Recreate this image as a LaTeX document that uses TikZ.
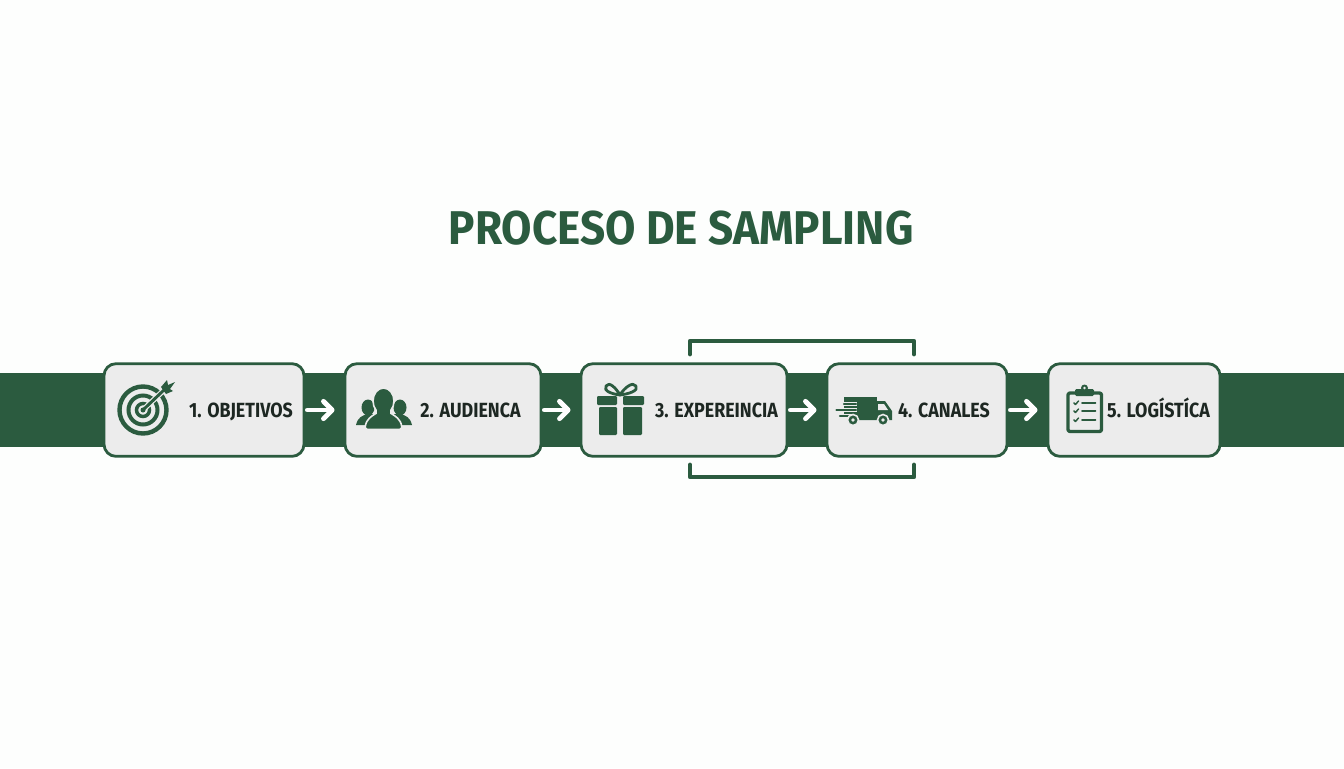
\documentclass[tikz,border=0pt]{standalone}
\usepackage{fontspec}
\setmainfont{Fira Sans}
\newfontfamily\titlefont[FakeStretch=0.93]{Fira Sans}
\newfontfamily\labelfont[FakeStretch=0.87]{Fira Sans}
\usetikzlibrary{arrows.meta}
\definecolor{brandgreen}{HTML}{2B5B3F}
\definecolor{boxfill}{HTML}{ECECEC}
\definecolor{inktext}{HTML}{1D2722}
\definecolor{paper}{HTML}{FDFEFD}
\tikzset{
  stagebox/.style={draw=brandgreen,line width=2.1pt,fill=boxfill,rounded corners=9pt,minimum height=69.5pt,inner sep=0pt,anchor=center},
  stagelabel/.style={font=\labelfont\fontsize{15.4pt}{18pt}\selectfont\bfseries,text=inktext,inner sep=0pt,anchor=base},
  flowarrow/.style={draw=white,line width=3.6pt,line cap=round,-{Straight Barb[length=6.5pt,width=13pt,round]},shorten <=1.5pt,shorten >=6.8pt},
  bracketline/.style={draw=brandgreen,line width=3.6pt,line cap=round,line join=round},
  iconfill/.style={fill=brandgreen,draw=none},
  iconline/.style={draw=brandgreen,line cap=round,line join=round}
}
\begin{document}
\begin{tikzpicture}[x=.75pt,y=-.75pt]
\useasboundingbox (0,0) rectangle (1344,768);
\fill[paper] (0,0) rectangle (1344,768);
\node[font=\titlefont\fontsize{35.5pt}{40pt}\selectfont\bfseries,text=brandgreen,inner sep=0pt,anchor=base] (title) at (681,244) {PROCESO DE SAMPLING};
% band
\fill[brandgreen] (0,373) rectangle (1344,447);
% brackets
\coordinate (tl) at (690,354); \coordinate (tlc) at (690,341);
\coordinate (tr) at (914,354); \coordinate (trc) at (914,341);
\coordinate (bl) at (690,465); \coordinate (blc) at (690,477);
\coordinate (br) at (914,465); \coordinate (brc) at (914,477);
\draw[bracketline] (tl) -- (tlc) -- (trc) -- (tr);
\draw[bracketline] (bl) -- (blc) -- (brc) -- (br);
% boxes
\node[stagebox,minimum width=150pt] (s1) at (204,410) {};
\node[stagebox,minimum width=147pt] (s2) at (443,410) {};
\node[stagebox,minimum width=154.5pt] (s3) at (684,410) {};
\node[stagebox,minimum width=135pt] (s4) at (917,410) {};
\node[stagebox,minimum width=129pt] (s5) at (1134,410) {};
% labels
\node[stagelabel] (l1) at (241,417.5) {1. OBJETIVOS};
\node[stagelabel] (l2) at (470.5,417.5) {2. AUDIENCA};
\node[stagelabel] (l3) at (716.5,417.5) {3. EXPEREINCIA};
\node[stagelabel] (l4) at (944,417.5) {4. CANALES};
\node[stagelabel] (l5) at (1158.5,417.5) {5. LOGÍSTÍCA};
% arrows
\draw[flowarrow] (s1.east) -- (s2.west);
\draw[flowarrow] (s2.east) -- (s3.west);
\draw[flowarrow] (s3.east) -- (s4.west);
\draw[flowarrow] (s4.east) -- (s5.west);
% target icon
\draw[brandgreen,line width=3.3pt] (143,410) circle (23.5);
\draw[brandgreen,line width=3pt] (143,410) circle (14.5);
\draw[brandgreen,line width=2.6pt] (143,410) circle (6.5);
\draw[boxfill,line width=4pt] (144,409) -- (164,390);
\draw[brandgreen,line width=2.2pt] (144,409) -- (165,389);
\fill[brandgreen] (161,387) -- (167,380) -- (168,385) -- (175,382) -- (170,389) -- (173,391) -- (166,394) -- cycle;
\fill[brandgreen] (143,410) circle (2.5);
% audience icon
\fill[brandgreen] (368,407.5) ellipse (6.5 and 8);
\fill[brandgreen] (400,407.5) ellipse (6.5 and 8);
\fill[brandgreen] (356,425) .. controls (358,417) and (362,416) .. (367,414) -- (374,414) -- (380,425) -- cycle;
\fill[brandgreen] (412,425) .. controls (410,417) and (406,416) .. (401,414) -- (394,414) -- (388,425) -- cycle;
\draw[boxfill,line width=1.2pt,fill=brandgreen,rounded corners=2pt] (365,429.5) .. controls (366,419) and (372,416) .. (378,412) -- (389,412) .. controls (395,416) and (401,419) .. (402,429.5) -- cycle;
\draw[boxfill,line width=1.2pt,fill=brandgreen] (383.5,401) ellipse (10.5 and 13);
\fill[brandgreen] (377,408) rectangle (390,416);
% gift icon
\fill[brandgreen,rounded corners=.8pt] (597,396) rectangle (617,405);
\fill[brandgreen,rounded corners=.8pt] (623,396) rectangle (644,405);
\fill[brandgreen,rounded corners=.8pt] (599,407) rectangle (617,435);
\fill[brandgreen,rounded corners=.8pt] (623,407) rectangle (642,435);
\draw[iconline,line width=2.1pt] (620,395) .. controls (612,394) and (603,391) .. (606,386) .. controls (609,381) and (616,388) .. (620,395);
\draw[iconline,line width=2.1pt] (620,395) .. controls (628,394) and (639,391) .. (636,386) .. controls (633,381) and (624,388) .. (620,395);
% truck icon
\fill[brandgreen] (844,397) rectangle (877,416);
\fill[brandgreen] (877,401) -- (885,401) -- (892,411) -- (892,420) -- (855,420) -- (855,416) -- (877,416) -- cycle;
\fill[boxfill] (878,404) -- (884,404) -- (888,410) -- (878,410) -- cycle;
\draw[boxfill,line width=2.6pt] (842,404) -- (857,404);
\draw[boxfill,line width=2.6pt] (842,410) -- (857,410);
\draw[boxfill,line width=2.6pt] (842,416) -- (852,416);
\draw[iconline,line width=1.8pt] (844,404) -- (856,404);
\draw[iconline,line width=1.8pt] (836.5,410) -- (856,410);
\draw[iconline,line width=1.8pt] (840,416) -- (849,416);
\draw[boxfill,line width=1.2pt,fill=brandgreen] (853,420) circle (5.5);
\draw[boxfill,line width=1.2pt,fill=brandgreen] (883,420) circle (5.5);
\fill[boxfill] (853,420) circle (1.8);
\fill[boxfill] (883,420) circle (1.8);
% clipboard icon
\draw[iconline,line width=2.5pt,rounded corners=1.5pt] (1068,393) -- (1068,431.5) -- (1101.5,431.5) -- (1101.5,393) -- cycle;
\fill[brandgreen,rounded corners=1pt] (1075,389) rectangle (1094,396);
\fill[brandgreen] (1084.5,388) circle (3.5);
\fill[boxfill] (1084.5,388) circle (1.3);
\foreach \yy in {403,411,420}{
  \draw[iconline,line width=1.4pt] (1082,\yy) -- (1095.5,\yy);
  \draw[iconline,line width=1.1pt] (1074,\yy) -- (1075.5,\yy+1.5) -- (1078.5,\yy-2);
}
\end{tikzpicture}
\end{document}
